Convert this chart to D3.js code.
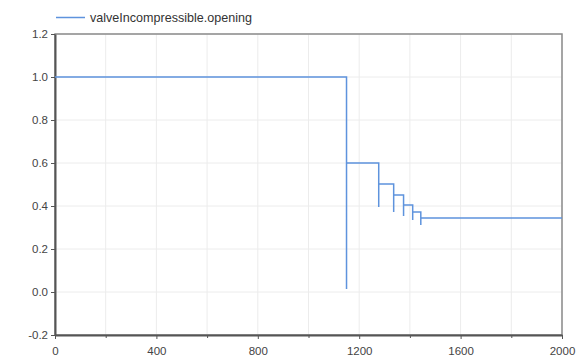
<!DOCTYPE html>
<html>
<head>
<meta charset="utf-8">
<script src="https://cdnjs.cloudflare.com/ajax/libs/d3/7.8.5/d3.min.js"></script>
<style>
  body { margin: 0; background: #fff; }
  text { font-family: "Liberation Sans", Arial, sans-serif; }
</style>
</head>
<body>
<div id="chart"></div>
<script>
var width = 588, height = 358;
var margin = {top: 34, right: 26, bottom: 23, left: 55};

var seriesName = "valveIncompressible.opening";
var startValue = 1.0;
// each switch: drop to a dip, then settle on a new level
var switchTimes = [1150, 1277, 1336, 1375, 1411, 1443];
var dipValues   = [0.014, 0.395, 0.372, 0.353, 0.335, 0.312];
var levelValues = [0.6, 0.502, 0.451, 0.405, 0.372, 0.344];
var endTime = 2000;

var xTicks = [0, 400, 800, 1200, 1600, 2000];
var xMinor = [200, 600, 1000, 1400, 1800];
var yTicks = [-0.2, 0.0, 0.2, 0.4, 0.6, 0.8, 1.0, 1.2];

var pts = [[0, startValue]];
var cur = startValue;
switchTimes.forEach(function(t, i) {
  pts.push([t, cur]);
  pts.push([t, dipValues[i]]);
  pts.push([t, levelValues[i]]);
  cur = levelValues[i];
});
pts.push([endTime, cur]);

var x = d3.scaleLinear().domain([0, 2000]).range([margin.left, width - margin.right]);
var y = d3.scaleLinear().domain([-0.2, 1.2]).range([height - margin.bottom, margin.top]);

var svg = d3.select("#chart").append("svg")
  .attr("width", width)
  .attr("height", height);

// grid
svg.append("g").selectAll("line")
  .data(xTicks.concat(xMinor))
  .enter().append("line")
  .attr("x1", function(d) { return x(d); })
  .attr("x2", function(d) { return x(d); })
  .attr("y1", y(1.2)).attr("y2", y(-0.2))
  .attr("stroke", "#ececec").attr("stroke-width", 1);

svg.append("g").selectAll("line")
  .data(yTicks)
  .enter().append("line")
  .attr("x1", x(0)).attr("x2", x(2000))
  .attr("y1", function(d) { return y(d); })
  .attr("y2", function(d) { return y(d); })
  .attr("stroke", "#ececec").attr("stroke-width", 1);

// frame
svg.append("rect")
  .attr("x", x(0)).attr("y", y(1.2))
  .attr("width", x(2000) - x(0)).attr("height", y(-0.2) - y(1.2))
  .attr("fill", "none").attr("stroke", "#8a8a8a").attr("stroke-width", 1.5);

// axes
var fmtY = function(d) { return d.toFixed(1); };
var xAxis = svg.append("g")
  .attr("transform", "translate(0," + y(-0.2) + ")")
  .call(d3.axisBottom(x).tickValues(xTicks).tickSize(4).tickSizeOuter(0).tickFormat(d3.format("d")));
svg.append("g")
  .attr("transform", "translate(0," + y(-0.2) + ")")
  .call(d3.axisBottom(x).tickValues(xMinor).tickSize(3).tickSizeOuter(0).tickFormat(""))
  .select(".domain").remove();

var yAxis = svg.append("g")
  .attr("transform", "translate(" + x(0) + ",0)")
  .call(d3.axisLeft(y).tickValues(yTicks).tickSize(4).tickSizeOuter(0).tickFormat(fmtY));

[xAxis, yAxis].forEach(function(a) {
  a.select(".domain").attr("stroke", "#555").attr("stroke-width", 2);
  a.selectAll("text").attr("fill", "#444").attr("font-size", 11.5);
});
svg.selectAll(".tick line").attr("stroke", "#555");
xAxis.selectAll("text").attr("dy", "1.15em");

// series
var line = d3.line()
  .x(function(d) { return x(d[0]); })
  .y(function(d) { return y(d[1]); });

svg.append("path")
  .datum(pts)
  .attr("d", line)
  .attr("fill", "none")
  .attr("stroke", "#5e93dd")
  .attr("stroke-width", 1.5);

// legend
svg.append("line")
  .attr("x1", 56).attr("x2", 85)
  .attr("y1", 17.5).attr("y2", 17.5)
  .attr("stroke", "#5e93dd").attr("stroke-width", 1.5);
svg.append("text")
  .attr("x", 90).attr("y", 22)
  .attr("font-size", 13)
  .attr("textLength", 162)
  .attr("lengthAdjust", "spacingAndGlyphs")
  .attr("fill", "#333")
  .text(seriesName);
</script>
</body>
</html>
